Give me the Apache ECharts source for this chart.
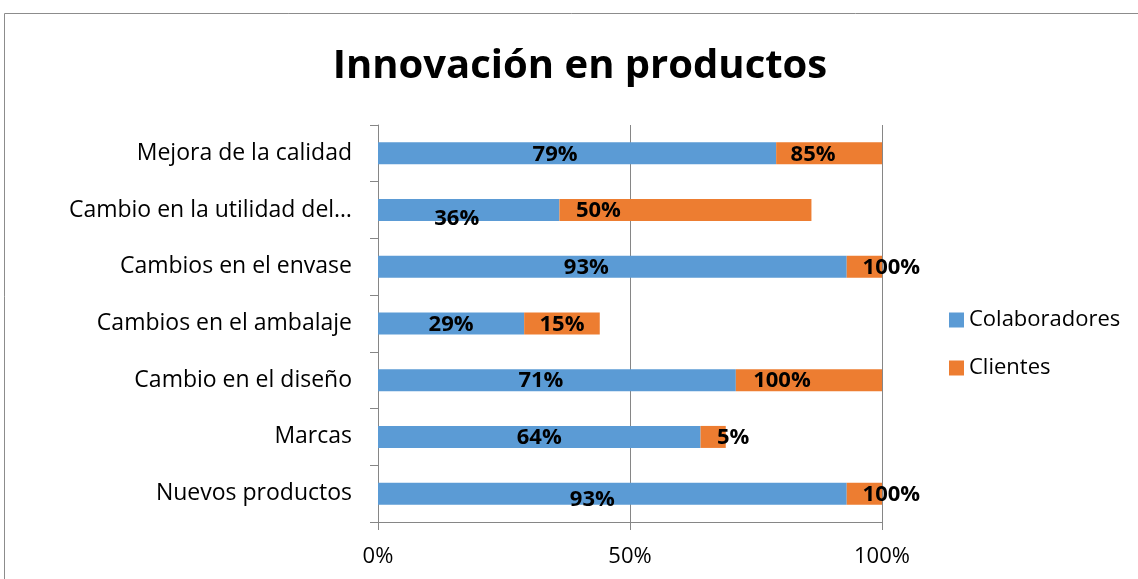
<!DOCTYPE html>
<html>
<head>
<meta charset="utf-8">
<script src="https://cdn.jsdelivr.net/npm/echarts@6/dist/echarts.min.js"></script>
<style>
  html, body { margin: 0; padding: 0; background: #fff; }
  #chart { width: 1138px; height: 579px; }
</style>
</head>
<body>
<div id="chart"></div>
<script>
// categorías, de arriba hacia abajo
const categories = ['Mejora de la calidad', 'Cambio en la utilidad del…', 'Cambios en el envase',
    'Cambios en el ambalaje', 'Cambio en el diseño', 'Marcas', 'Nuevos productos'];
const colaboradores = [0.79, 0.36, 0.93, 0.29, 0.71, 0.64, 0.93];
const clientes = [0.85, 0.50, 1.00, 0.15, 1.00, 0.05, 1.00];

// desplazamiento de etiquetas (como en el original, movidas a mano)
const colabOffsets = [[-22, 1], [-12, 9], [-26, 1], [0, 1], [-16, 1], [0, 1], [-20, 6]];
const clientOffsets = [[-16, 1], [-87, 1], [27, 1], [0, 1], [-27, 1], [20, 1], [27, 1]];

const FONT = 'Open Sans';
const pct = v => Math.round(v * 100) + '%';

const chart = echarts.init(document.getElementById('chart'));

const labelBase = {
    show: true,
    position: 'inside',
    color: '#000',
    fontFamily: FONT,
    fontWeight: 'bold',
    fontSize: 22
};

const option = {
    animation: false,
    textStyle: { fontFamily: FONT },
    title: {
        text: 'Innovación en productos',
        left: 575,
        top: 42,
        textAlign: 'center',
        textStyle: {
            fontFamily: FONT,
            fontSize: 40,
            fontWeight: 'bold',
            color: '#000'
        }
    },
    graphic: [{
        type: 'rect',
        shape: { x: 4.5, y: 13.5, width: 1160, height: 600 },
        style: { fill: 'none', stroke: '#8c8c8c', lineWidth: 1 },
        silent: true
    }],
    legend: {
        orient: 'vertical',
        left: 944,
        top: 304,
        itemWidth: 15,
        itemHeight: 15,
        itemGap: 26,
        icon: 'rect',
        textStyle: { fontFamily: FONT, fontSize: 22, color: '#000', padding: [0, 0, 0, 0] },
        data: ['Colaboradores', 'Clientes']
    },
    grid: {
        left: 378,
        right: 256,
        top: 125,
        bottom: 57
    },
    xAxis: {
        type: 'value',
        min: 0,
        max: 1,
        interval: 0.5,
        axisLine: { show: true, lineStyle: { color: '#868686' } },
        axisTick: { show: true, length: 8, lineStyle: { color: '#868686' } },
        splitLine: { show: true, lineStyle: { color: '#868686' } },
        axisLabel: {
            formatter: pct,
            fontFamily: FONT,
            fontSize: 22,
            color: '#000',
            margin: 24
        }
    },
    yAxis: {
        type: 'category',
        inverse: true,
        data: categories,
        axisLine: { show: true, lineStyle: { color: '#868686' } },
        axisTick: { show: true, length: 8, lineStyle: { color: '#868686' } },
        axisLabel: {
            fontFamily: FONT,
            fontSize: 23,
            color: '#000',
            margin: 26
        }
    },
    series: [{
        name: 'Colaboradores',
        type: 'bar',
        stack: 'total',
        barWidth: 22,
        itemStyle: { color: '#5B9BD5' },
        data: colaboradores.map((v, i) => ({
            value: v,
            label: Object.assign({}, labelBase, { offset: colabOffsets[i], formatter: () => pct(v) })
        }))
    }, {
        name: 'Clientes',
        type: 'bar',
        stack: 'total',
        barWidth: 22,
        itemStyle: { color: '#ED7D31' },
        // la barra se corta en el 100% del eje
        data: clientes.map((v, i) => ({
            value: Math.min(v, 1 - colaboradores[i]),
            label: Object.assign({}, labelBase, { offset: clientOffsets[i], formatter: () => pct(v) })
        }))
    }]
};

chart.setOption(option);
</script>
</body>
</html>
